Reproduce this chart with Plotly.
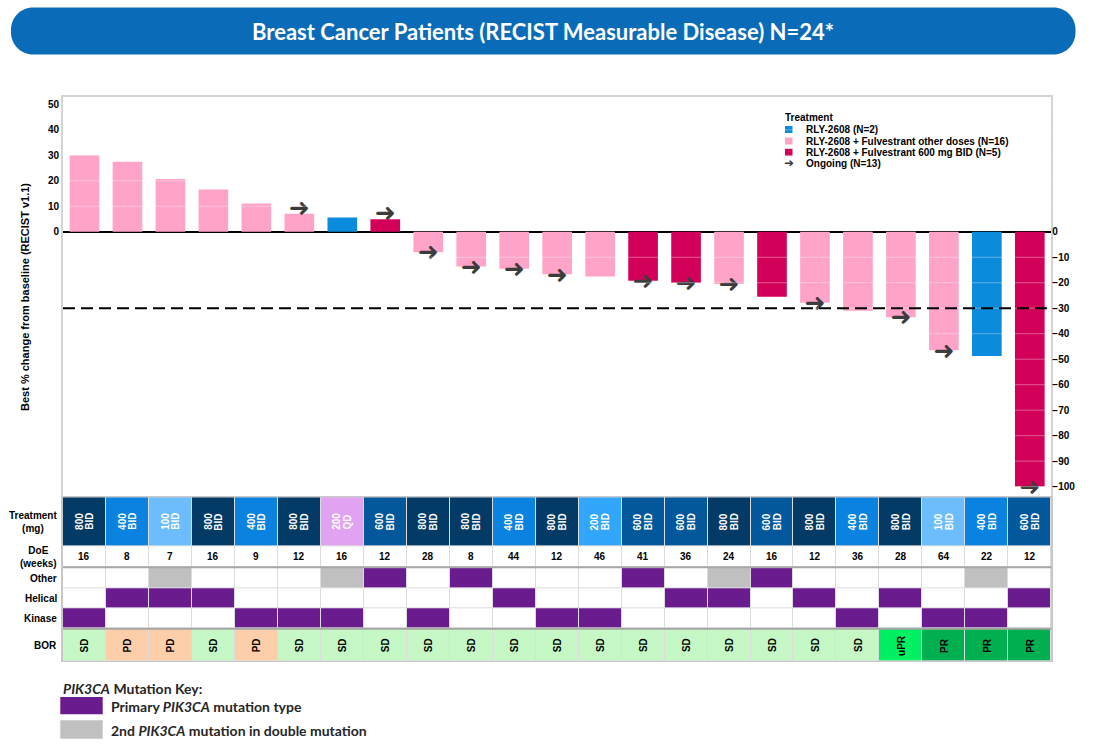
import plotly.graph_objects as go

W, H = 1112, 754

# ---------------- data ----------------
best_change = [30.0, 27.5, 20.7, 16.6, 11.1, 7.1, 5.6, 4.9, -8.0, -13.6, -14.5, -16.7,
               -17.5, -19.2, -20.0, -20.5, -25.5, -27.8, -31.0, -33.5, -46.5, -48.7, -100.0]
cohort = ["other", "other", "other", "other", "other", "other", "mono", "c600",
          "other", "other", "other", "other", "other", "c600", "c600", "other",
          "c600", "other", "other", "other", "other", "mono", "c600"]
ongoing = [0, 0, 0, 0, 0, 1, 0, 1, 1, 1, 1, 1, 0, 1, 1, 1, 0, 1, 0, 1, 1, 0, 1]
dose_mg = ["800", "400", "100", "800", "400", "800", "200", "600", "800", "800", "400", "800",
           "200", "600", "600", "800", "600", "800", "400", "800", "100", "400", "600"]
regimen = ["BID", "BID", "BID", "BID", "BID", "BID", "QD", "BID", "BID", "BID", "BID", "BID",
           "BID", "BID", "BID", "BID", "BID", "BID", "BID", "BID", "BID", "BID", "BID"]
doe_weeks = [16, 8, 7, 16, 9, 12, 16, 12, 28, 8, 44, 12, 46, 41, 36, 24, 16, 12, 36, 28, 64, 22, 12]
# 0 = none, 1 = primary PIK3CA mutation type, 2 = 2nd mutation in double mutation
mut_other = [0, 0, 2, 0, 0, 0, 2, 1, 0, 1, 0, 0, 0, 1, 0, 2, 1, 0, 0, 0, 0, 2, 0]
mut_helical = [0, 1, 1, 1, 0, 0, 0, 0, 0, 0, 1, 0, 0, 0, 1, 1, 0, 1, 0, 1, 0, 0, 1]
mut_kinase = [1, 0, 0, 0, 1, 1, 1, 0, 1, 0, 0, 1, 1, 0, 0, 0, 0, 0, 1, 0, 1, 1, 0]
bor = ["SD", "PD", "PD", "SD", "PD", "SD", "SD", "SD", "SD", "SD", "SD", "SD",
       "SD", "SD", "SD", "SD", "SD", "SD", "SD", "uPR", "PR", "PR", "PR"]

cohort_names = {"mono": "RLY-2608 (N=2)",
                "other": "RLY-2608 + Fulvestrant other doses (N=16)",
                "c600": "RLY-2608 + Fulvestrant 600 mg BID (N=5)"}
ongoing_label = "Ongoing (N=13)"
row_labels = ["Treatment<br>(mg)", "DoE<br>(weeks)", "Other", "Helical", "Kinase", "BOR"]
y_ticks_pos = [0, 10, 20, 30, 40, 50]
y_ticks_neg = [0, -10, -20, -30, -40, -50, -60, -70, -80, -90, -100]
threshold = -30

# ---------------- styles ----------------
FONT = "Liberation Sans, Arial, sans-serif"
TFONT = "Lato, Open Sans, sans-serif"
cohort_colors = {"mono": "#0b8bdb", "other": "#ffa3c9", "c600": "#d3005a"}
treat_colors = {"800 BID": "#033a66", "400 BID": "#0a82e0", "100 BID": "#6cbdfc",
                "200 QD": "#e2a2f2", "600 BID": "#03589b", "200 BID": "#31a6fb"}
bor_colors = {"SD": "#c5f8c5", "PD": "#fccfaa", "uPR": "#00f064", "PR": "#00b050"}
mut_colors = ["#ffffff", "#6a1b8e", "#c0c0c0"]
ARROW_COLOR = "#3c3c3c"

def px(x):
    return x / W

def py(y):
    return 1 - y / H

N = len(best_change)
xs = list(range(N))

fig = go.Figure()

# bars
for key in ["other", "mono", "c600"]:
    idx = [i for i in xs if cohort[i] == key]
    fig.add_trace(go.Bar(x=idx, y=[best_change[i] for i in idx], marker_color=cohort_colors[key],
                         marker_line_width=0, width=0.69, name=cohort_names[key],
                         showlegend=False, hoverinfo="skip", xaxis="x", yaxis="y"))

# ongoing arrows
oi = [i for i in xs if ongoing[i]]
fig.add_trace(go.Scatter(x=oi, y=[best_change[i] + (1.7 if best_change[i] > 0 else -0.8) for i in oi],
                         mode="text", text=["➜"] * len(oi),
                         textfont=dict(family="DejaVu Sans", size=25, color=ARROW_COLOR, weight="bold"),
                         cliponaxis=False, showlegend=False, hoverinfo="skip", xaxis="x", yaxis="y"))

# right axis dummy trace to activate y3
fig.add_trace(go.Scatter(x=[0], y=[0], mode="markers", marker=dict(opacity=0), showlegend=False,
                         hoverinfo="skip", xaxis="x", yaxis="y3"))

# ---------------- table heatmap ----------------
palette = ["#ffffff", mut_colors[1], mut_colors[2]]
treat_keys = list(treat_colors.keys())
bor_keys = list(bor_colors.keys())
palette += [treat_colors[k] for k in treat_keys] + [bor_colors[k] for k in bor_keys]
n_col = len(palette)
cs = []
for i, c in enumerate(palette):
    cs.append([i / n_col, c])
    cs.append([(i + 1) / n_col, c])

row_treat = [3 + treat_keys.index(f"{d} {r}") for d, r in zip(dose_mg, regimen)]
row_doe = [0] * N
row_bor = [3 + len(treat_keys) + bor_keys.index(b) for b in bor]
z = [row_treat, row_doe, mut_other, mut_helical, mut_kinase, row_bor]

row_heights = [48.7, 21.3, 21.4, 20.0, 20.0, 32.6]
edges = [0]
for h in row_heights:
    edges.append(edges[-1] + h)
centers = [(edges[i] + edges[i + 1]) / 2 for i in range(len(row_heights))]

fig.add_trace(go.Heatmap(x=xs, y=edges, z=z, colorscale=cs, zmin=-0.5, zmax=n_col - 0.5,
                         showscale=False, xgap=1, ygap=1, hoverinfo="skip",
                         xaxis="x2", yaxis="y2"))

annotations = []

def note(**kw):
    kw.setdefault("showarrow", False)
    kw.setdefault("xanchor", "center")
    kw.setdefault("yanchor", "middle")
    annotations.append(kw)

bold10 = dict(family=FONT, size=10, color="black", weight="bold")
for i in xs:
    note(x=i, y=centers[0], xref="x2", yref="y2", text=dose_mg[i], textangle=-90, xshift=-5.2,
         font=dict(bold10, color="white"))
    note(x=i, y=centers[0], xref="x2", yref="y2", text=regimen[i], textangle=-90, xshift=5.6,
         font=dict(bold10, color="white"))
    note(x=i, y=centers[1], xref="x2", yref="y2", text=str(doe_weeks[i]), font=bold10)
    note(x=i, y=centers[5], xref="x2", yref="y2", text=bor[i], textangle=-90, font=bold10)
for lab, c in zip(row_labels, centers):
    note(x=px(59), y=c, xref="paper", yref="y2", text=lab, xanchor="right", align="center", font=bold10)

# y axis title
note(x=px(25), y=py(297), xref="paper", yref="paper", textangle=-90,
     text="Best % change from baseline (RECIST v1.1)", font=dict(bold10, size=11))

# legend (manual)
note(x=px(782.5), y=py(117.5), xref="paper", yref="paper", text="Treatment", xanchor="left", font=bold10)
leg_rows = [("mono", 129.5), ("other", 141.0), ("c600", 152.3)]
shapes = []
for key, yy in leg_rows:
    shapes.append(dict(type="rect", xref="paper", yref="paper", x0=px(785), x1=px(792.5),
                       y0=py(yy + 3.5), y1=py(yy - 3.5), fillcolor=cohort_colors[key], line_width=0))
    note(x=px(804), y=py(yy), xref="paper", yref="paper", text=cohort_names[key], xanchor="left", font=bold10)
note(x=px(788.5), y=py(163.3), xref="paper", yref="paper", text="➜",
     font=dict(family="DejaVu Sans", size=12, color=ARROW_COLOR, weight="bold"))
note(x=px(804), y=py(163.3), xref="paper", yref="paper", text=ongoing_label, xanchor="left", font=bold10)

# title banner
x0, x1, y0, y1, r = 11, 1075.5, 7.5, 54.5, 22
k = 0.5523 * r
pts = [("M", [(x0 + r, y0)]), ("L", [(x1 - r, y0)]),
       ("C", [(x1 - r + k, y0), (x1, y0 + r - k), (x1, y0 + r)]),
       ("L", [(x1, y1 - r)]),
       ("C", [(x1, y1 - r + k), (x1 - r + k, y1), (x1 - r, y1)]),
       ("L", [(x0 + r, y1)]),
       ("C", [(x0 + r - k, y1), (x0, y1 - r + k), (x0, y1 - r)]),
       ("L", [(x0, y0 + r)]),
       ("C", [(x0, y0 + r - k), (x0 + r - k, y0), (x0 + r, y0)])]
path = " ".join(cmd + " " + " ".join(f"{px(a):.5f},{py(b):.5f}" for a, b in p) for cmd, p in pts) + " Z"
shapes.append(dict(type="path", xref="paper", yref="paper", path=path, fillcolor="#0a6cb8", line_width=0,
                   layer="below"))
note(x=px(543), y=py(31), xref="paper", yref="paper",
     text="Breast Cancer Patients (RECIST Measurable Disease) N=24*",
     font=dict(family=TFONT, size=22, color="white", weight="bold"))

# bottom key
shapes.append(dict(type="rect", xref="paper", yref="paper", x0=px(60.3), x1=px(102.7), y0=py(714.3), y1=py(697),
                   fillcolor=mut_colors[1], line_width=0))
shapes.append(dict(type="rect", xref="paper", yref="paper", x0=px(60.3), x1=px(102.7), y0=py(738.7), y1=py(720.3),
                   fillcolor=mut_colors[2], line_width=0))
keyfont = dict(family=TFONT, size=14, color="#262626", weight="bold")
note(x=px(61), y=py(688), xref="paper", yref="paper", xanchor="left",
     text="<i>PIK3CA</i> Mutation Key:", font=keyfont)
note(x=px(108.5), y=py(706), xref="paper", yref="paper", xanchor="left",
     text="Primary <i>PIK3CA</i> mutation type", font=keyfont)
note(x=px(108.5), y=py(730), xref="paper", yref="paper", xanchor="left",
     text="2nd <i>PIK3CA</i> mutation in double mutation", font=keyfont)

# table background (gap colour) and rules
shapes.append(dict(type="rect", xref="x2 domain", yref="y2 domain", x0=0, x1=1, y0=0, y1=1,
                   fillcolor="#dcdcdc", line_width=0, layer="below"))
for e in [edges[2], edges[5]]:
    shapes.append(dict(type="line", xref="x2 domain", yref="y2", x0=0, x1=1, y0=e, y1=e,
                       line=dict(color="#a6a6a6", width=2)))

# faint grid over bars
for v in range(-100, 60, 10):
    if v != 0:
        shapes.append(dict(type="line", xref="x domain", yref="y", x0=0, x1=1, y0=v, y1=v,
                           line=dict(color="rgba(255,255,255,0.35)", width=1), layer="above"))
# threshold line
shapes.append(dict(type="line", xref="x domain", yref="y", x0=0, x1=1, y0=threshold, y1=threshold,
                   line=dict(color="black", width=2, dash="12px,6px"), layer="above"))

yr = [-104.2, 52.9]
xdom = [px(63), px(1051.3)]
tickf = dict(family=FONT, size=10, color="black", weight="bold")
fig.update_layout(
    width=W, height=H, margin=dict(l=0, r=0, t=0, b=0),
    paper_bgcolor="white", plot_bgcolor="white", barmode="overlay",
    xaxis=dict(domain=xdom, range=[-0.5, N - 0.5], showticklabels=False, showgrid=False, zeroline=False,
               showline=True, mirror=True, linecolor="#d4d4d4", linewidth=2, anchor="y"),
    yaxis=dict(domain=[py(497.3), py(97)], range=yr, tickvals=y_ticks_pos, showgrid=False,
               zeroline=True, zerolinecolor="black", zerolinewidth=2, showline=True, mirror=True,
               linecolor="#d4d4d4", linewidth=2, ticks="", anchor="x", tickfont=tickf),
    yaxis3=dict(overlaying="y", side="right", range=yr, tickvals=y_ticks_neg, showgrid=False,
                zeroline=False, showline=False, ticks="", anchor="x", tickfont=tickf),
    xaxis2=dict(domain=xdom, range=[-0.5, N - 0.5], showticklabels=False, showgrid=False, zeroline=False,
                showline=True, mirror=True, linecolor="#c8c8c8", linewidth=1, anchor="y2"),
    yaxis2=dict(domain=[py(661.3), py(497.3)], range=[edges[-1], 0], showticklabels=False, showgrid=False,
                zeroline=False, showline=True, mirror=True, linecolor="#c8c8c8", linewidth=2, anchor="x2"),
    shapes=shapes, annotations=annotations, showlegend=False,
)

fig.write_html("out.html", config={"displayModeBar": False},
               post_script="document.body.style.margin='0';document.body.style.overflow='hidden';")
